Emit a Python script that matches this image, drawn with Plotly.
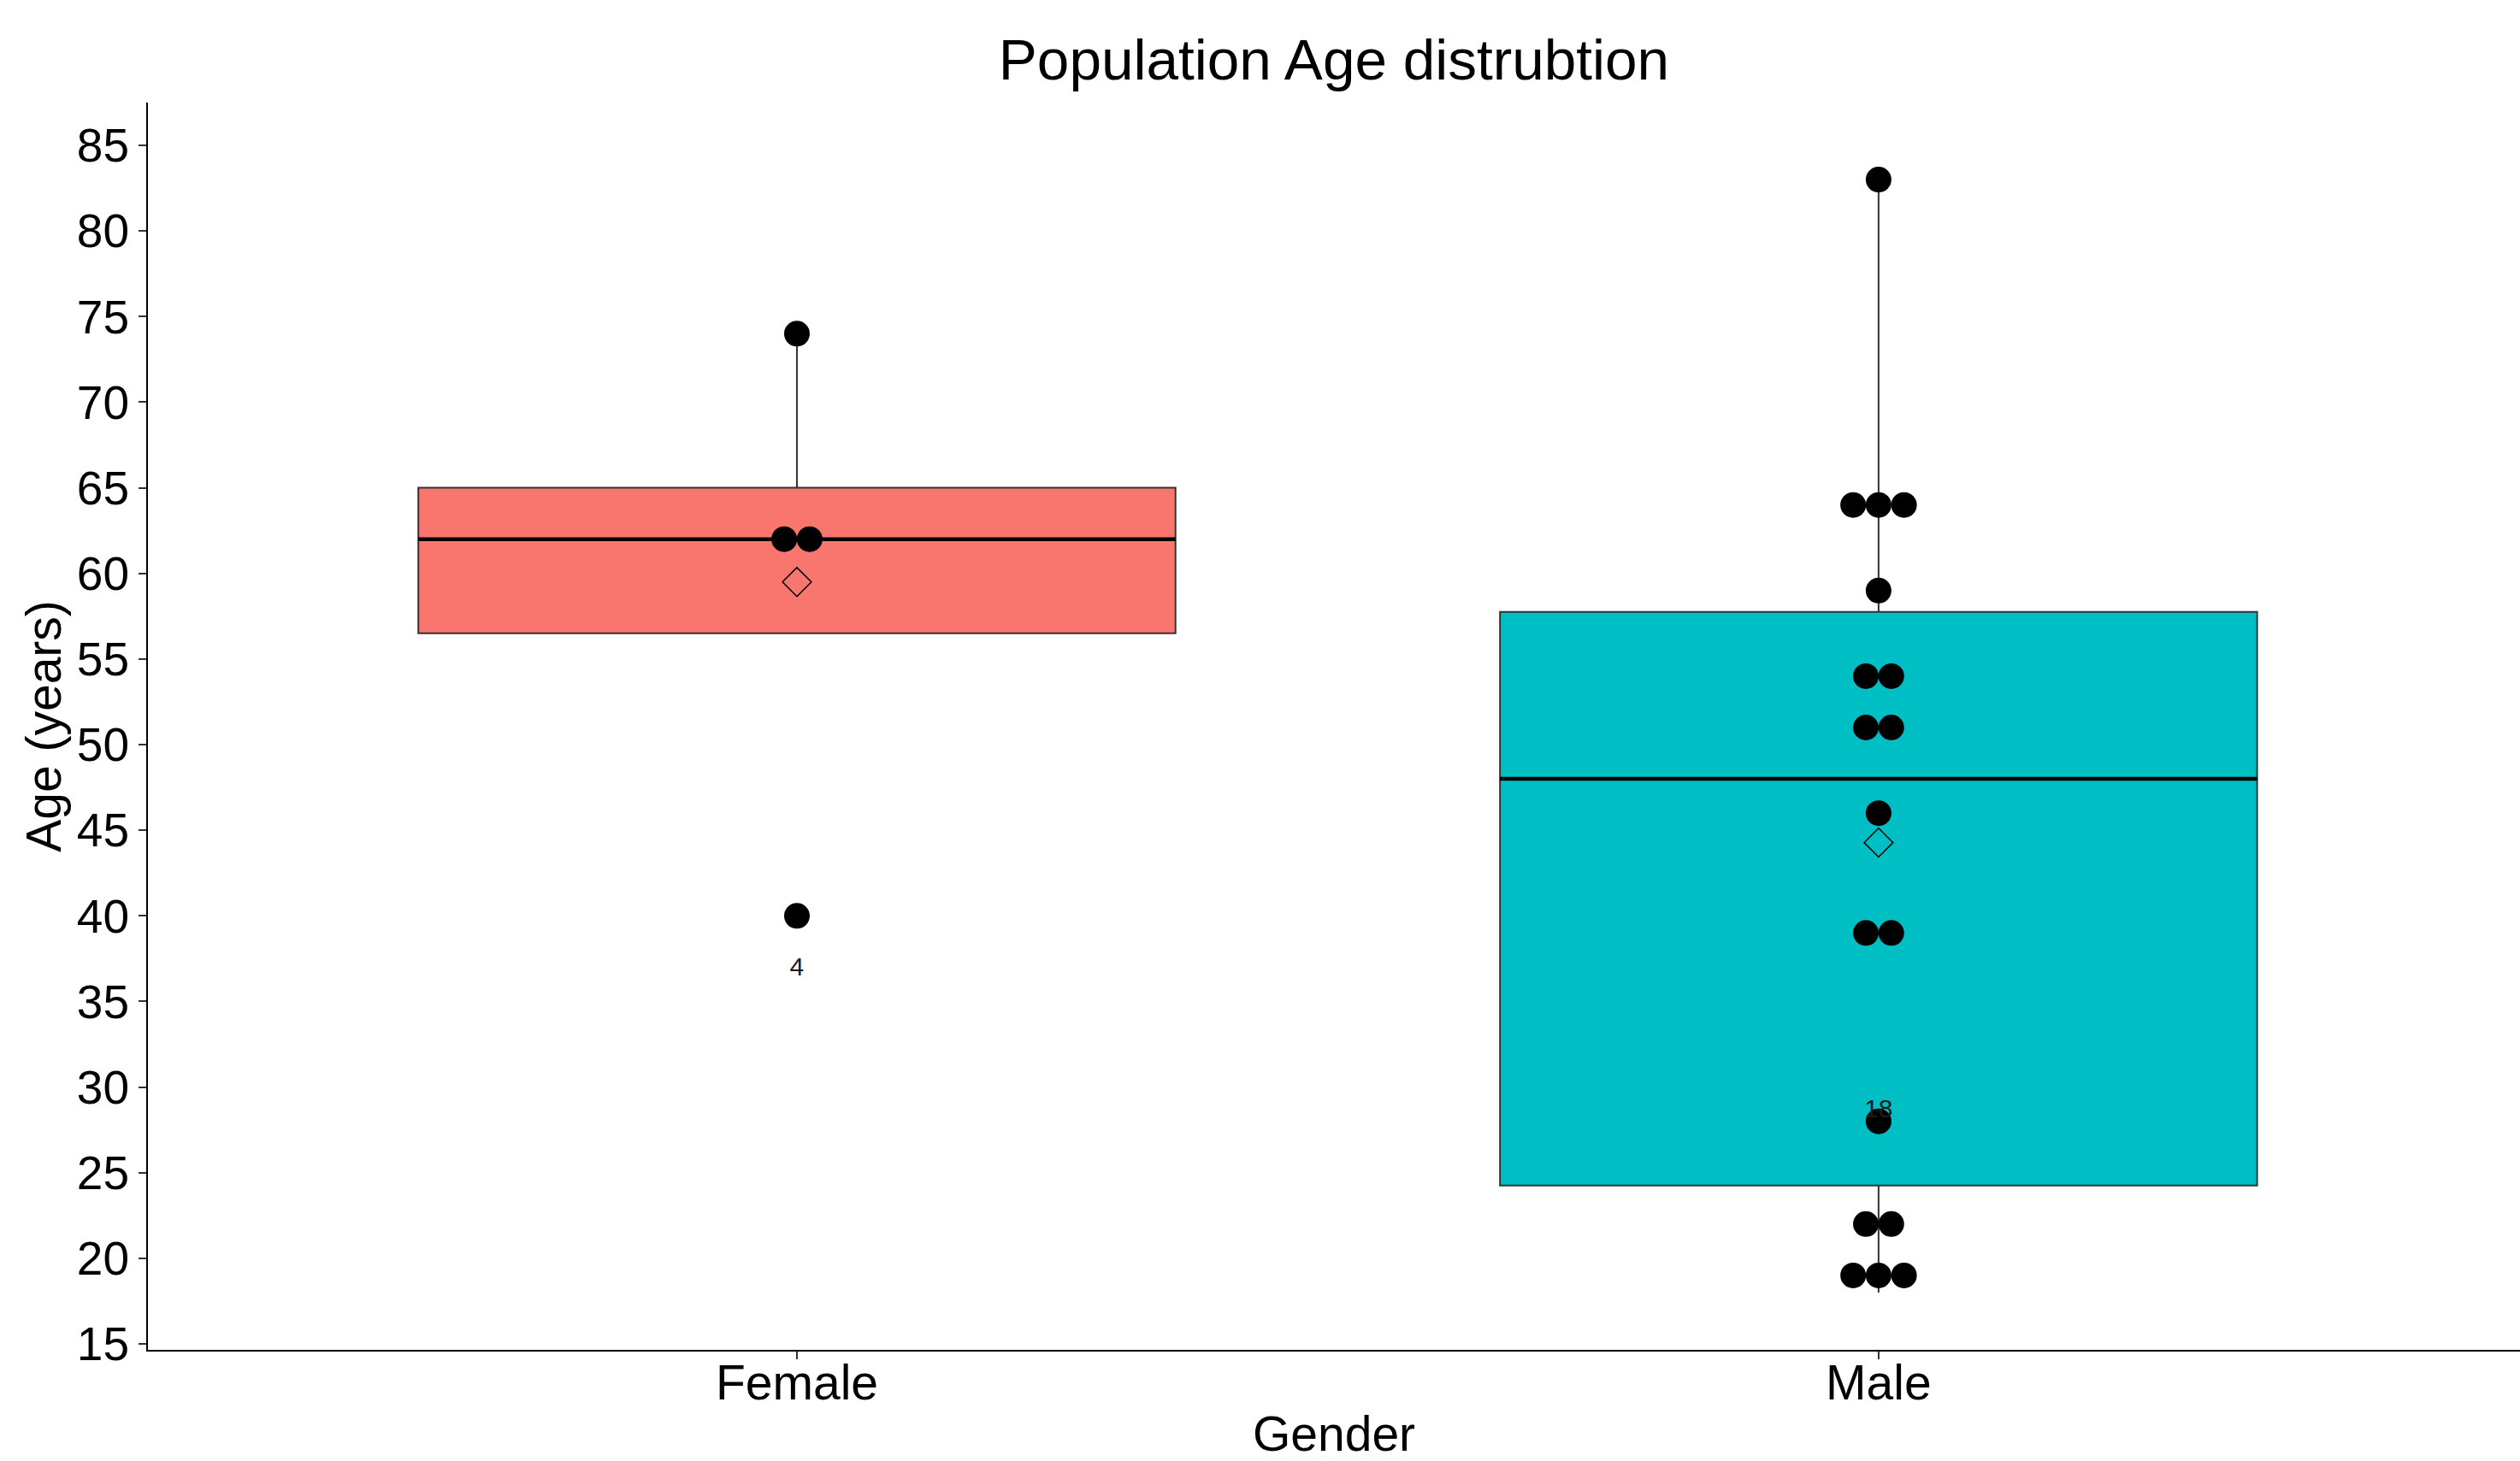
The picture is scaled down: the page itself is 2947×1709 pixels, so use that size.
import numpy as np
import plotly.graph_objects as go

# ---------------- data ----------------
categories = ["Female", "Male"]
female_ages = [74, 62, 62, 40]
male_ages = [83, 64, 64, 64, 59, 54, 54, 51, 51, 46, 39, 39, 28, 22, 22, 19, 19, 19]
group_ages = [female_ages, male_ages]

box_q1 = [56.5, 24.25]
box_median = [62, 48]
box_q3 = [65, 57.75]
box_lowerfence = [56.5, 18]
box_upperfence = [74, 83]
box_colors = ["#F8766D", "#00BFC4"]

outlier_labels = ["4", "18"]
outlier_label_group = [0, 1]
outlier_label_y = [36.9, 28.6]

y_ticks = list(range(15, 90, 5))

# ---------------- style ----------------
FONT = "Liberation Sans, Arial, sans-serif"
BOX_W = 0.70
DOT_STEP = 0.0235      # horizontal stacking step (data units) ~ one dot diameter
DOT_SIZE = 30
LINE_C = "#333333"

fig = go.Figure()

positions = list(range(len(categories)))

# boxes
for i, pos in enumerate(positions):
    fig.add_trace(go.Box(
        x=[pos], q1=[box_q1[i]], median=[box_median[i]], q3=[box_q3[i]],
        lowerfence=[box_lowerfence[i]], upperfence=[box_upperfence[i]],
        width=BOX_W, whiskerwidth=0, boxpoints=False,
        fillcolor=box_colors[i], line=dict(color=LINE_C, width=2),
        showlegend=False, hoverinfo="skip",
    ))
    # thicker median line (ggplot fatten)
    fig.add_trace(go.Scatter(
        x=[pos - BOX_W / 2, pos + BOX_W / 2], y=[box_median[i], box_median[i]],
        mode="lines", line=dict(color="black", width=4.5),
        showlegend=False, hoverinfo="skip",
    ))

# dot plot (centered stacks)
for i, pos in enumerate(positions):
    ages = group_ages[i]
    xs, ys = [], []
    vals, counts = np.unique(ages, return_counts=True)
    for v, n in zip(vals, counts):
        for k in range(n):
            xs.append(pos + (k - (n - 1) / 2) * DOT_STEP)
            ys.append(float(v))
    fig.add_trace(go.Scatter(
        x=xs, y=ys, mode="markers",
        marker=dict(color="black", size=DOT_SIZE, line=dict(width=0)),
        showlegend=False, hoverinfo="skip",
    ))

# means
means = [float(np.mean(a)) for a in group_ages]
fig.add_trace(go.Scatter(
    x=positions, y=means, mode="markers",
    marker=dict(symbol="diamond-open", size=26, color="black", line=dict(width=1.5, color="black")),
    showlegend=False, hoverinfo="skip",
))

# outlier labels
fig.add_trace(go.Scatter(
    x=[positions[g] for g in outlier_label_group], y=outlier_label_y,
    mode="text", text=outlier_labels,
    textfont=dict(family=FONT, size=30, color="#1a1a1a"),
    textposition="middle center",
    showlegend=False, hoverinfo="skip",
))

fig.update_layout(
    width=2947, height=1709,
    margin=dict(l=173, r=0, t=120, b=130),
    paper_bgcolor="white", plot_bgcolor="white",
    font=dict(family=FONT, color="black"),
    title=dict(text="Population Age distrubtion", x=0.5, xref="paper",
               y=1 - 69 / 1709, yref="container", yanchor="middle", xanchor="center",
               font=dict(family=FONT, size=67.5, color="black")),
    showlegend=False,
)

fig.update_xaxes(
    range=[-0.6, 1.593], tickvals=positions, ticktext=categories,
    showline=True, linecolor="black", linewidth=2, mirror=False,
    ticks="outside", ticklen=9, tickwidth=2, tickcolor=LINE_C,
    showgrid=False, zeroline=False, ticklabelstandoff=-21,
    tickfont=dict(family=FONT, size=57, color="black"),
    title=dict(text="Gender", font=dict(family=FONT, size=57, color="black"), standoff=17),
)
fig.update_yaxes(
    range=[14.65, 87.5], tickvals=y_ticks,
    showline=True, linecolor="black", linewidth=2, mirror=False,
    ticks="outside", ticklen=9, tickwidth=2, tickcolor=LINE_C,
    showgrid=False, zeroline=False,
    tickfont=dict(family=FONT, size=55, color="black"),
    title=dict(text="Age (years)", font=dict(family=FONT, size=57, color="black"), standoff=0),
)

fig.write_html("out.html", config={"displayModeBar": False},
               post_script="document.body.style.margin='0';")
